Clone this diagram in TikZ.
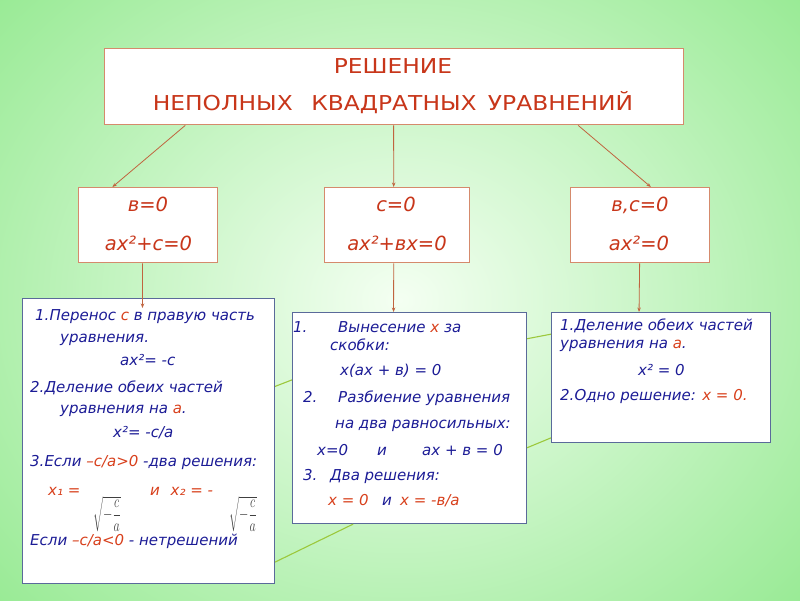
\documentclass[tikz,border=0pt]{standalone}
\usepackage{fontspec}
\setmainfont{DejaVu Sans}
\newfontfamily\titlefont{DejaVu Sans}[FakeStretch=1.14]
\usetikzlibrary{calc,arrows.meta}
\definecolor{bgin}{HTML}{F4FFF2}
\definecolor{bgout}{HTML}{86E682}
\definecolor{tred}{HTML}{C8361A}
\definecolor{hred}{HTML}{D8401C}
\definecolor{tblue}{HTML}{1C1C96}
\definecolor{obord}{HTML}{D58A6C}
\definecolor{bbord}{HTML}{5A6A9A}
\definecolor{arrc}{HTML}{C0643F}
\definecolor{gline}{HTML}{9CC83C}
\newcommand{\mysqrtfrac}{\scalebox{1}[1.45]{$\displaystyle\sqrt{-\frac{c}{a}}$}}
\begin{document}
\begin{tikzpicture}[x=1pt,y=-1pt,
  obox/.style={draw=obord, line width=1.4pt, fill=white, anchor=north west, inner sep=0pt},
  bbox/.style={draw=bbord, line width=1.1pt, fill=white, anchor=north west, inner sep=0pt},
  arr/.style={draw=arrc, line width=0.8pt, -{Stealth[length=4.5pt,width=3.5pt]}},
  gl/.style={draw=gline, line width=1.1pt},
  ttl/.style={inner sep=0pt, anchor=base, text=tred, font=\titlefont\fontsize{20.5}{24}\selectfont},
  cond/.style={inner sep=0pt, anchor=base, text=tred, font=\itshape\fontsize{19.5}{24}\selectfont},
  txt/.style={inner sep=0pt, anchor=base west, text=tblue, font=\itshape\fontsize{15}{18}\selectfont},
  rtxt/.style={txt, text=hred},
  sq/.style={inner sep=0pt, anchor=north, text=black!75, font=\fontsize{12}{14}\selectfont}
]
\useasboundingbox (0,0) rectangle (800,600);
\begin{scope}
  \clip (0,0) rectangle (800,600);
  \shade[inner color=bgin, outer color=bgout] (-250,-250) rectangle (1050,850);
\end{scope}

% boxes
\node[obox, minimum width=579pt, minimum height=76pt] (top) at (104,48) {};
\node[obox, minimum width=139pt, minimum height=75pt] (s1) at (78,187) {};
\node[obox, minimum width=145pt, minimum height=75pt] (s2) at (324,187) {};
\node[obox, minimum width=139pt, minimum height=75pt] (s3) at (570,187) {};
\node[bbox, minimum width=252pt, minimum height=285pt] (lb) at (22,298) {};
\node[bbox, minimum width=234pt, minimum height=211pt] (mb) at (292,312) {};
\node[bbox, minimum width=219pt, minimum height=130pt] (rb) at (551,312) {};

% green decorative lines
\draw[gl] ($(lb.north east)!0.309!(lb.south east)$) -- ($(mb.north west)!0.32!(mb.south west)$);
\draw[gl] ($(lb.north east)!0.923!(lb.south east)$) -- ($(mb.south west)!0.26!(mb.south east)$);
\draw[gl] ($(mb.north east)!0.126!(mb.south east)$) -- ($(rb.north west)!0.169!(rb.south west)$);
\draw[gl] ($(mb.north east)!0.64!(mb.south east)$) -- ($(rb.north west)!0.96!(rb.south west)$);

% arrows
\draw[arr] ($(top.south west)!0.14!(top.south east)$) -- ($(s1.north west)!0.245!(s1.north east)$);
\draw[arr] ($(top.south west)!0.499!(top.south east)$) -- ($(s2.north west)!0.476!(s2.north east)$);
\draw[arr] ($(top.south west)!0.817!(top.south east)$) -- ($(s3.north west)!0.576!(s3.north east)$);
\draw[arr] ($(s1.south west)!0.46!(s1.south east)$) -- ($(lb.north west)!0.476!(lb.north east)+(0,10)$);
\draw[arr] ($(s2.south west)!0.476!(s2.south east)$) -- ($(mb.north west)!0.432!(mb.north east)$);
\draw[arr] ($(s3.south west)!0.496!(s3.south east)$) -- ($(rb.north west)!0.40!(rb.north east)$);

% title
\node[ttl] (t1) at (393,73) {РЕШЕНИЕ};
\node[ttl] (t2) at (393,110) {НЕПОЛНЫХ\hspace{0.9em}КВАДРАТНЫХ\hspace{0.55em}УРАВНЕНИЙ};

% conditions
\node[cond] (c1a) at (148,211) {в=0};
\node[cond] (c1b) at (148.5,250) {ax²+c=0};
\node[cond] (c2a) at (396,211) {c=0};
\node[cond] (c2b) at (397,250) {ax²+вx=0};
\node[cond] (c3a) at (640,211) {в,c=0};
\node[cond] (c3b) at (639,250) {ax²=0};

% left box
\node[txt] (l1) at (35,320) {1.Перенос {\color{hred}c} в правую часть};
\node[txt] (l2) at (60,342) {уравнения.};
\node[txt] (l3) at (120,365) {ax²= -c};
\node[txt] (l4) at (30,392) {2.Деление обеих частей};
\node[txt] (l5) at (60,413) {уравнения на {\color{hred}a}.};
\node[txt] (l6) at (113,437) {x²= -c/a};
\node[txt] (l7) at (30,466) {3.Если {\color{hred}–c/a>0} -два решения:};
\node[rtxt] (l8) at (48,495) {x₁ =};
\node[rtxt] (l9) at (150,495) {и\hspace{0.4em} x₂ = -};
\node[sq] (q1) at (107,496) {\mysqrtfrac};
\node[sq] (q2) at (243,496) {\mysqrtfrac};
\node[txt] (l10) at (30,545) {Если {\color{hred}–c/a<0} - нетрешений};

% middle box
\node[txt] (m1n) at (293,332) {1.};
\node[txt] (m1) at (338,332) {Вынесение {\color{hred}x} за};
\node[txt] (m2) at (330,350) {скобки:};
\node[txt] (m3) at (340,375) {x(ax + в) = 0};
\node[txt] (m4n) at (303,402) {2.};
\node[txt] (m4) at (338,402) {Разбиение уравнения};
\node[txt] (m5) at (335,428) {на два равносильных:};
\node[txt] (m6a) at (317,455) {x=0};
\node[txt] (m6b) at (377,455) {и};
\node[txt] (m6c) at (422,455) {ax + в = 0};
\node[txt] (m7n) at (303,480) {3.};
\node[txt] (m7) at (330,480) {Два решения:};
\node[rtxt] (m8a) at (328,505) {x = 0};
\node[txt] (m8b) at (382,505) {и};
\node[rtxt] (m8c) at (400,505) {x = -в/a};

% right box
\node[txt] (r1) at (560,330) {1.Деление обеих частей};
\node[txt] (r2) at (560,348) {уравнения на {\color{hred}a}.};
\node[txt] (r3) at (638,375) {x² = 0};
\node[txt] (r4) at (560,400) {2.Одно решение: {\color{hred}x = 0.}};
\end{tikzpicture}
\end{document}
